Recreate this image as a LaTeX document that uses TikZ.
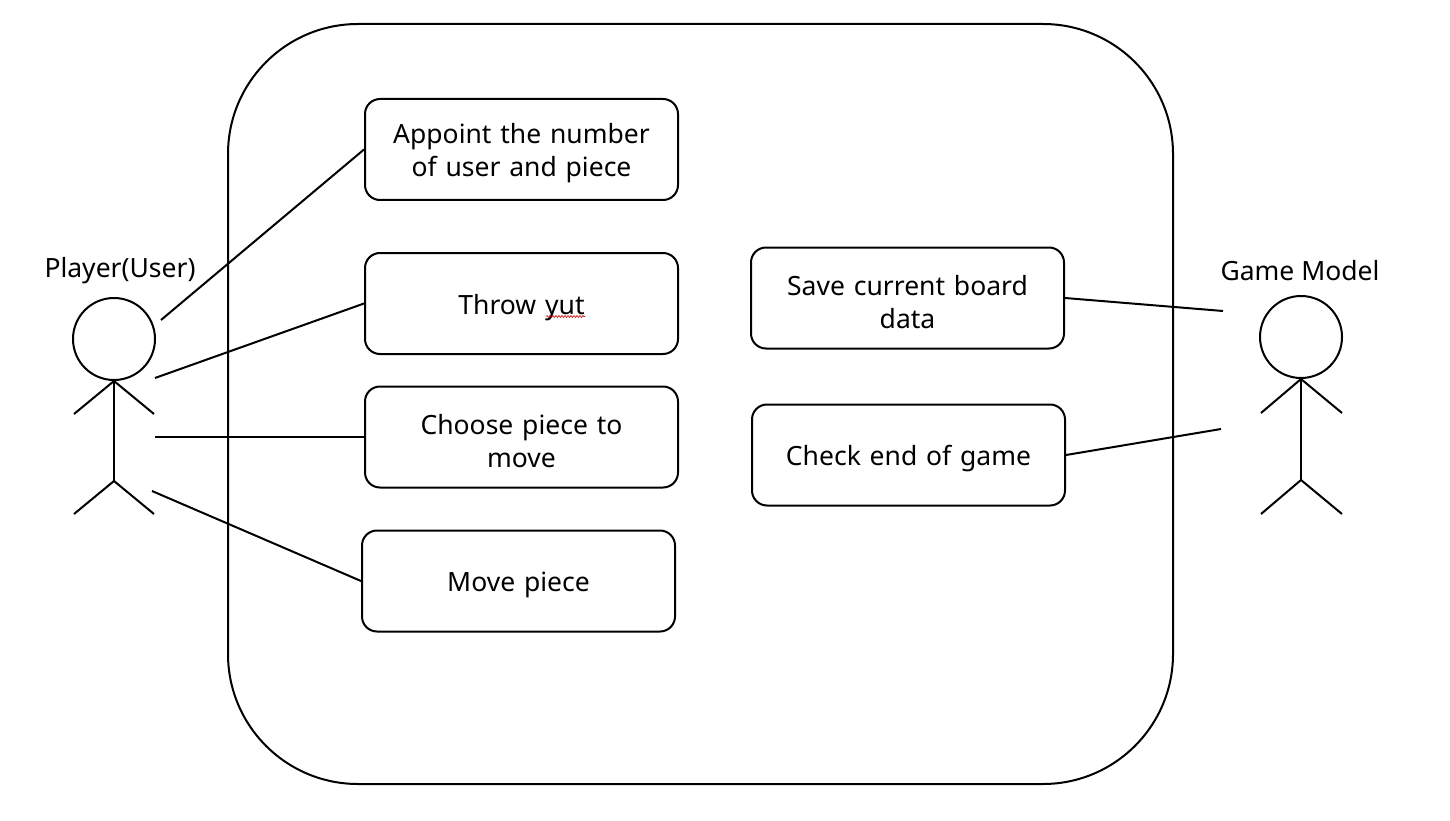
\documentclass[tikz,border=0pt]{standalone}
\usepackage{fontspec}
\setmainfont{Noto Sans}
\usetikzlibrary{decorations.pathmorphing}
\begin{document}
\begin{tikzpicture}[x=1pt,y=-1pt,
  ln/.style={line width=2pt},
  uc/.style={draw,line width=2pt,rounded corners=15pt,minimum width=313pt,minimum height=101pt,inner sep=0pt},
  ut/.style={inner sep=0pt,text width=300pt,align=center,font=\fontsize{26.5}{33}\selectfont},
  lbl/.style={font=\fontsize{26.5}{33}\selectfont,inner sep=0pt}]
\useasboundingbox[fill=white] (0,0) rectangle (1450,821);
% system boundary
\draw[ln,rounded corners=130pt] (228,24) rectangle (1173,784);
% use cases
\node[uc] (A) at (521.5,149.5) {};
\node[uc] (B) at (521.5,303.5) {};
\node[uc] (C) at (521.5,437) {};
\node[uc] (D) at (518.5,581) {};
\node[uc] (E) at (907.5,298) {};
\node[uc] (F) at (908.5,455) {};
\node[ut] (At) at ([yshift=-4pt]A.center) {Appoint the number\\ of user and piece};
\node[ut] (Bt) at ([yshift=-4pt]B.center) {Throw yut};
\node[ut] (Ct) at ([yshift=-4pt]C.center) {Choose piece to\\ move};
\node[ut] (Dt) at ([yshift=-4pt]D.center) {Move piece};
\node[ut] (Et) at ([yshift=-4pt]E.center) {Save current board\\ data};
\node[ut] (Ft) at ([yshift=-4pt]F.center) {Check end of game};
% spell squiggle
\coordinate (sq1) at (546,316.5);
\coordinate (sq2) at (585,316.5);
\draw[red!80!black,line width=0.6pt,decorate,decoration={snake,amplitude=1pt,segment length=3pt}] (sq1) -- (sq2);
% left actor
\node[draw,ln,circle,minimum size=82pt,inner sep=0pt] (h1) at (114,339) {};
\coordinate (n1) at (114,381);
\coordinate (w1) at (114,481);
\draw[ln] (n1) -- (w1);
\draw[ln] (74,414) -- (n1) -- (154,414);
\draw[ln] (74,514) -- (w1) -- (154,514);
\node[lbl] (p1) at (120,271) {Player(User)};
% right actor
\node[draw,ln,circle,minimum size=82pt,inner sep=0pt] (h2) at (1301,337) {};
\coordinate (n2) at (1301,379);
\coordinate (w2) at (1301,480);
\draw[ln] (n2) -- (w2);
\draw[ln] (1261,413) -- (n2) -- (1342,413);
\draw[ln] (1261,514) -- (w2) -- (1342,514);
\node[lbl] (p2) at (1300,271) {Game Model};
% connector free ends
\coordinate (a1) at (161,320);
\coordinate (a2) at (155,378);
\coordinate (a3) at (155,437);
\coordinate (a4) at (152,491);
\coordinate (b1) at (1223,311);
\coordinate (b2) at (1221,429);
\draw[ln] (a1) -- (A.west);
\draw[ln] (a2) -- (B.west);
\draw[ln] (a3) -- (C.west);
\draw[ln] (a4) -- (D.west);
\draw[ln] (E.east) -- (b1);
\draw[ln] (F.east) -- (b2);
\end{tikzpicture}
\end{document}
